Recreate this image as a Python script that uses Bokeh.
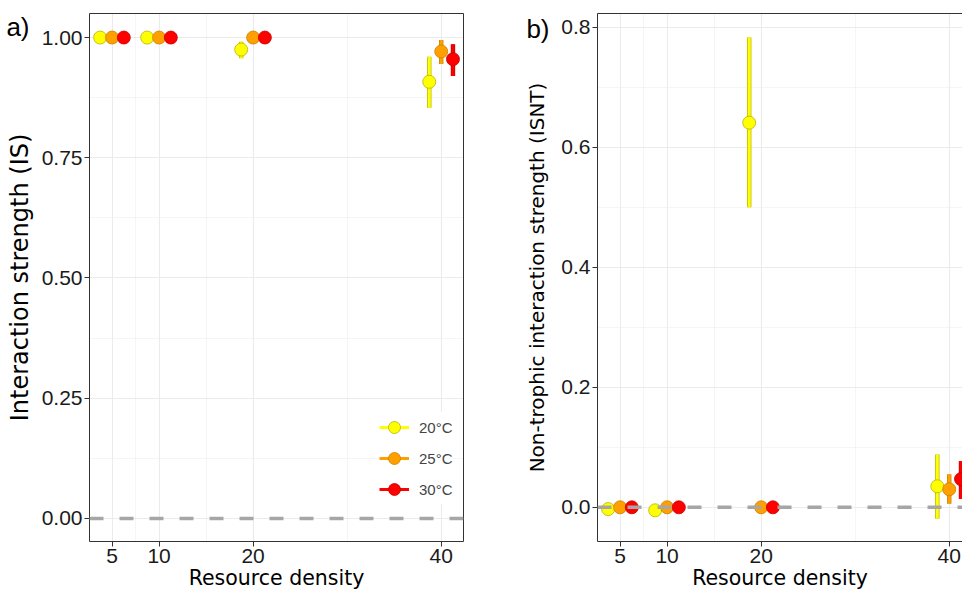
from bokeh.plotting import figure
from bokeh.models import (Range1d, FixedTicker, Span, Legend, LegendItem,
                          LinearAxis, ColumnDataSource)
from bokeh.layouts import row
from bokeh.embed import file_html
from bokeh.resources import INLINE

# ---------------- data ----------------
density = [5, 10, 20, 40]
temperatures = ["20°C", "25°C", "30°C"]

# Panel a: interaction strength (IS)
is_mean_20 = [1.000, 1.000, 0.975, 0.908]
is_lo_20 = [1.000, 1.000, 0.957, 0.854]
is_hi_20 = [1.000, 1.000, 0.991, 0.960]
is_mean_25 = [1.000, 1.000, 1.000, 0.971]
is_lo_25 = [1.000, 1.000, 1.000, 0.945]
is_hi_25 = [1.000, 1.000, 1.000, 0.995]
is_mean_30 = [1.000, 1.000, 1.000, 0.955]
is_lo_30 = [1.000, 1.000, 1.000, 0.920]
is_hi_30 = [1.000, 1.000, 1.000, 0.986]

# Panel b: non-trophic interaction strength (ISNT)
isnt_mean_20 = [-0.003, -0.005, 0.641, 0.035]
isnt_lo_20 = [-0.003, -0.005, 0.500, -0.019]
isnt_hi_20 = [-0.003, -0.005, 0.783, 0.088]
isnt_mean_25 = [0.000, 0.000, 0.000, 0.030]
isnt_lo_25 = [0.000, 0.000, 0.000, 0.006]
isnt_hi_25 = [0.000, 0.000, 0.000, 0.055]
isnt_mean_30 = [0.000, 0.000, 0.000, 0.047]
isnt_lo_30 = [0.000, 0.000, 0.000, 0.014]
isnt_hi_30 = [0.000, 0.000, 0.000, 0.077]

x_ticks = [5, 10, 20, 40]
x_tick_labels = ["5", "10", "20", "40"]
x_minor = [7.5, 15, 30]
is_ticks = [0, 0.25, 0.5, 0.75, 1.0]
is_tick_labels = ["0.00", "0.25", "0.50", "0.75", "1.00"]
is_minor = [0.125, 0.375, 0.625, 0.875]
isnt_ticks = [0, 0.2, 0.4, 0.6, 0.8]
isnt_tick_labels = ["0.0", "0.2", "0.4", "0.6", "0.8"]
isnt_minor = [0.1, 0.3, 0.5, 0.7]
panel_tags = ["a)", "b)"]

# ---------------- style ----------------
fill_colors = {"20°C": "#FFFF00", "25°C": "#FFA000", "30°C": "#FF0000"}
edge_colors = {"20°C": "#B8B400", "25°C": "#C98000", "30°C": "#C40000"}
dodge = {"20°C": -1.27, "25°C": 0.0, "30°C": 1.25}

TICK_FONT = "Liberation Sans"
TITLE_FONT = "DejaVu Sans"
BORDER = "#333333"
H = 592


def line_only_axis():
    return LinearAxis(ticker=FixedTicker(ticks=[]), axis_line_color=BORDER, axis_line_width=1,
                      major_tick_line_color=None, minor_tick_line_color=None,
                      major_tick_out=0, major_tick_in=0,
                      major_label_text_font_size="0px", major_label_standoff=0,
                      axis_label_standoff=0)


def tag_axis(tag, tag_y):
    # outermost left axis whose single tick label is the panel tag
    return LinearAxis(ticker=FixedTicker(ticks=[tag_y]),
                      major_label_overrides={tag_y: tag},
                      axis_line_color=None, major_tick_line_color=None,
                      minor_tick_line_color=None, major_tick_out=0, major_tick_in=0,
                      major_label_text_font=TICK_FONT, major_label_text_font_size="26px",
                      major_label_text_color="black", major_label_standoff=-27,
                      axis_label_standoff=0)


def make_panel(ylab, ylab_size, ylab_standoff, yr, xr, yticks, ylabels, yminor,
               width, left, right, extra_right):
    p = figure(width=width, height=H, x_range=Range1d(*xr), y_range=Range1d(*yr),
               output_backend="svg", toolbar_location=None,
               min_border_left=left, min_border_right=right,
               min_border_top=13, min_border_bottom=10)
    p.outline_line_color = None
    p.background_fill_color = "white"
    p.border_fill_color = "white"

    p.xaxis.ticker = FixedTicker(ticks=x_ticks, minor_ticks=x_minor)
    p.xaxis.major_label_overrides = dict(zip(x_ticks, x_tick_labels))
    p.yaxis.ticker = FixedTicker(ticks=yticks, minor_ticks=yminor)
    p.yaxis.major_label_overrides = dict(zip(yticks, ylabels))
    p.xaxis.axis_label = "Resource density"
    p.yaxis.axis_label = ylab
    for ax in (p.xaxis[0], p.yaxis[0]):
        ax.axis_line_color = BORDER
        ax.axis_line_width = 1
        ax.major_tick_out = 5
        ax.major_tick_in = 0
        ax.minor_tick_out = 0
        ax.minor_tick_in = 0
        ax.major_tick_line_color = BORDER
        ax.major_label_text_font = TICK_FONT
        ax.major_label_text_font_size = "21px"
        ax.major_label_text_color = "#1A1A1A"
        ax.major_label_standoff = 2
        ax.axis_label_text_font = TITLE_FONT
        ax.axis_label_text_font_size = "20.5px"
        ax.axis_label_text_font_style = "normal"
        ax.axis_label_text_color = "black"
        ax.axis_label_standoff = 0
    p.yaxis.axis_label_text_font_size = ylab_size
    p.yaxis.axis_label_standoff = ylab_standoff

    for g in (p.xgrid[0], p.ygrid[0]):
        g.grid_line_color = "#EBEBEB"
        g.grid_line_width = 1.1
        g.minor_grid_line_color = "#EFEFEF"
        g.minor_grid_line_width = 0.6

    p.add_layout(line_only_axis(), "above")
    if extra_right:
        p.add_layout(line_only_axis(), "right")

    p.add_layout(Span(location=0, dimension="width", line_color="#A6A6A6",
                      line_width=3.5, line_dash="14 16"))
    return p


def add_series(p, means, los, his):
    items = []
    for t, m, lo, hi in zip(temperatures, means, los, his):
        xs = [d + dodge[t] for d in density]
        src = ColumnDataSource(dict(x=xs, y=m, lo=lo, hi=hi))
        p.segment(x0="x", y0="lo", x1="x", y1="hi", source=src,
                  line_color=edge_colors[t], line_width=4.4)
        seg = p.segment(x0="x", y0="lo", x1="x", y1="hi", source=src,
                        line_color=fill_colors[t], line_width=3.0)
        pts = p.scatter(x="x", y="y", source=src, size=13, marker="circle",
                        fill_color=fill_colors[t], line_color=edge_colors[t],
                        line_width=0.8)
        items.append(LegendItem(label=t, renderers=[seg, pts]))
    return items


# Panel a
ya = (-0.048, 1.05)
pa = make_panel("Interaction strength (IS)", "24px", 5, ya, (2.6, 42.37),
                is_ticks, is_tick_labels, is_minor, width=473, left=89, right=10,
                extra_right=True)
items = add_series(pa,
                   [is_mean_20, is_mean_25, is_mean_30],
                   [is_lo_20, is_lo_25, is_lo_30],
                   [is_hi_20, is_hi_25, is_hi_30])
legend = Legend(items=items, location=(290, 37), background_fill_color="white",
                background_fill_alpha=1.0, border_line_color=None,
                glyph_width=30, glyph_height=30, spacing=1, padding=4, margin=0,
                label_text_font=TICK_FONT, label_text_font_size="15px",
                label_standoff=10)
pa.add_layout(legend)
pa.add_layout(tag_axis(panel_tags[0], 1.021), "left")

# Panel b
yb = (-0.057, 0.823)
pb = make_panel("Non-trophic interaction strength (ISNT)", "20px", 9, yb, (2.6, 41.41),
                isnt_ticks, isnt_tick_labels, isnt_minor, width=489, left=124, right=0,
                extra_right=False)
add_series(pb,
           [isnt_mean_20, isnt_mean_25, isnt_mean_30],
           [isnt_lo_20, isnt_lo_25, isnt_lo_30],
           [isnt_hi_20, isnt_hi_25, isnt_hi_30])
pb.add_layout(tag_axis(panel_tags[1], 0.798), "left")

layout = row(pa, pb)
open("out.html", "w").write(file_html(layout, INLINE))
